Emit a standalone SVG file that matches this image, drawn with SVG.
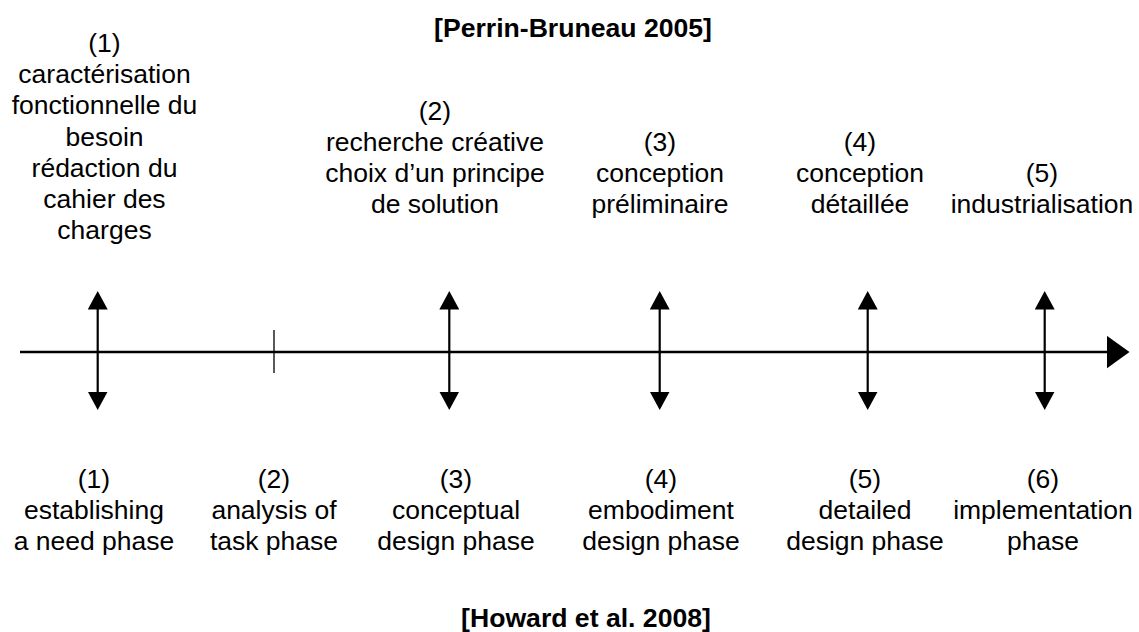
<svg xmlns="http://www.w3.org/2000/svg" width="1139" height="632" viewBox="0 0 1139 632">
<style>
.t{font-family:"Liberation Sans",Arial,Helvetica,sans-serif;font-size:26.5px;fill:#000;text-anchor:middle}
.b{font-family:"Liberation Sans",Arial,Helvetica,sans-serif;font-size:26.6px;font-weight:bold;fill:#000;text-anchor:middle}
.v{stroke:#000;stroke-width:2.2;fill:none;marker-start:url(#ah);marker-end:url(#ah)}
.ax{stroke:#000;stroke-width:2.5;fill:none;marker-end:url(#axh)}
.tk{stroke:#000;stroke-width:1.3}
</style>
<defs>
<marker id="ah" markerUnits="userSpaceOnUse" viewBox="0 0 18.5 20" markerWidth="18.5" markerHeight="20" refX="0.5" refY="10" orient="auto-start-reverse">
<path d="M0,0 L18.5,10 L0,20 Z" fill="#000"/>
</marker>
<marker id="axh" markerUnits="userSpaceOnUse" viewBox="0 0 23 33" markerWidth="23" markerHeight="33" refX="0.5" refY="16.5" orient="auto">
<path d="M0,0 L23,16.5 L0,33 Z" fill="#000"/>
</marker>
</defs>
<rect width="1139" height="632" fill="#fff"/>
<g id="connectors">
<line class="ax" x1="20" y1="352" x2="1107" y2="352"/>
<line class="tk" x1="274" y1="330" x2="274" y2="373"/>
<line class="v" x1="97.7" y1="309" x2="97.7" y2="392"/>
<line class="v" x1="449.3" y1="309" x2="449.3" y2="392"/>
<line class="v" x1="659.7" y1="309" x2="659.7" y2="392"/>
<line class="v" x1="867.7" y1="309" x2="867.7" y2="392"/>
<line class="v" x1="1044.7" y1="309" x2="1044.7" y2="392"/>
</g>
<g id="title-top"><text class="b" x="573" y="37">[Perrin-Bruneau 2005]</text></g>
<g id="title-bottom"><text class="b" x="586" y="627">[Howard et al. 2008]</text></g>
<g id="top-1">
<text class="t" x="104.5" y="52">(1)</text>
<text class="t" x="104.5" y="83">caractérisation</text>
<text class="t" x="104.5" y="114">fonctionnelle du</text>
<text class="t" x="104.5" y="146">besoin</text>
<text class="t" x="104.5" y="177">rédaction du</text>
<text class="t" x="104.5" y="208">cahier des</text>
<text class="t" x="104.5" y="239">charges</text>
</g>
<g id="top-2">
<text class="t" x="435" y="120">(2)</text>
<text class="t" x="435" y="151">recherche créative</text>
<text class="t" x="435" y="182">choix d’un principe</text>
<text class="t" x="435" y="213">de solution</text>
</g>
<g id="top-3">
<text class="t" x="660" y="151">(3)</text>
<text class="t" x="660" y="182">conception</text>
<text class="t" x="660" y="213">préliminaire</text>
</g>
<g id="top-4">
<text class="t" x="860" y="151">(4)</text>
<text class="t" x="860" y="182">conception</text>
<text class="t" x="860" y="213">détaillée</text>
</g>
<g id="top-5">
<text class="t" x="1042" y="182">(5)</text>
<text class="t" x="1042" y="213">industrialisation</text>
</g>
<g id="bottom-1">
<text class="t" x="94" y="488">(1)</text>
<text class="t" x="94" y="519">establishing</text>
<text class="t" x="94" y="550">a need phase</text>
</g>
<g id="bottom-2">
<text class="t" x="274" y="488">(2)</text>
<text class="t" x="274" y="519">analysis of</text>
<text class="t" x="274" y="550">task phase</text>
</g>
<g id="bottom-3">
<text class="t" x="456" y="488">(3)</text>
<text class="t" x="456" y="519">conceptual</text>
<text class="t" x="456" y="550">design phase</text>
</g>
<g id="bottom-4">
<text class="t" x="661" y="488">(4)</text>
<text class="t" x="661" y="519">embodiment</text>
<text class="t" x="661" y="550">design phase</text>
</g>
<g id="bottom-5">
<text class="t" x="865" y="488">(5)</text>
<text class="t" x="865" y="519">detailed</text>
<text class="t" x="865" y="550">design phase</text>
</g>
<g id="bottom-6">
<text class="t" x="1043" y="488">(6)</text>
<text class="t" x="1043" y="519">implementation</text>
<text class="t" x="1043" y="550">phase</text>
</g>
</svg>
